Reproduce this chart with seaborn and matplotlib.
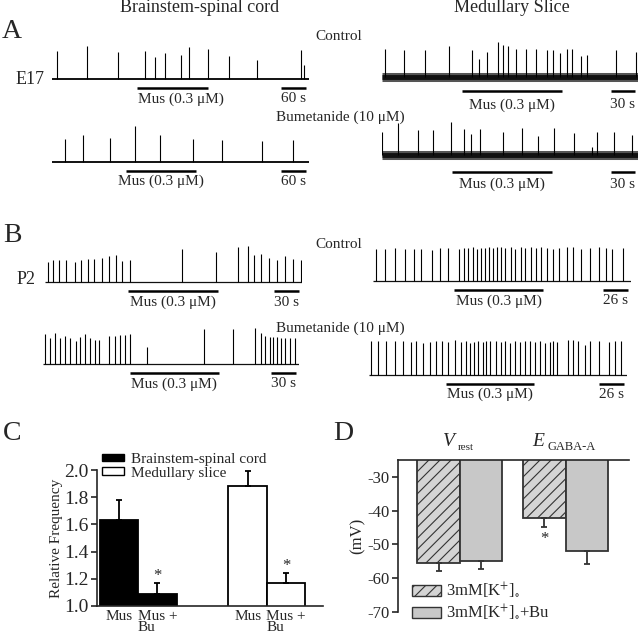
import matplotlib.patches as mpatches
import matplotlib.pyplot as plt
import numpy as np
import pandas as pd
import seaborn as sns

sns.set_style("ticks")
plt.rcParams["font.family"] = ["Liberation Serif", "DejaVu Serif"]
plt.rcParams["mathtext.fontset"] = "stix"
plt.rcParams["axes.unicode_minus"] = False
plt.rcParams["hatch.color"] = "#333333"
plt.rcParams["hatch.linewidth"] = 0.8

W, H = 640, 635

# ---- A: E17 recordings, spike times (s) and amplitudes (a.u.) ----
a_bs_ctrl_t = [13, 85, 158, 224, 247, 271, 309, 329, 374, 424, 493, 598, 604]
a_bs_ctrl_amp = [28, 33, 27, 28, 22, 26, 24, 32, 30, 23, 19, 29, 14]
a_bs_ctrl_mus = [205, 374]

a_bs_bu_t = [30, 75, 138, 200, 259, 339, 408, 505, 578]
a_bs_bu_amp = [22, 26, 23, 35, 26, 22, 21, 20, 21]
a_bs_bu_mus = [178, 346]

a_med_ctrl_t = [4, 27, 54, 84, 113, 121, 131.5, 145, 151, 158, 168, 180, 193,
                206.5, 214, 222, 231, 238, 248.5, 256, 293, 317.5]
a_med_ctrl_amp = [28, 27, 27, 31, 27, 18, 25, 35, 32, 31, 28, 28, 28,
                  27, 27, 24, 28, 28, 21, 22, 27, 25]
a_med_ctrl_mus = [100, 225]

a_med_bu_t = [0.5, 19.5, 44.5, 63.5, 86, 103, 111, 123, 151, 175.5, 195.5,
              215.5, 240, 262.5, 269, 290.5, 312]
a_med_bu_amp = [23, 32, 25, 25, 33, 26, 21, 26, 23, 27, 19, 27, 22, 8, 23, 23, 20]
a_med_bu_mus = [88, 212]

# ---- B: P2 recordings ----
b_bs_ctrl_t = [3.6, 10, 17, 25, 35.4, 43, 51, 59, 68.4, 76.6, 85, 92, 101.6,
               164.4, 205, 231, 243, 251, 259.4, 268.6, 278, 287.6, 297.6, 307]
b_bs_ctrl_amp = [20, 22, 22, 22, 20, 22, 23, 23, 24, 26, 27, 21, 22,
                 33, 30, 35, 36, 27, 28, 24, 22, 26, 23, 22]
b_bs_ctrl_mus = [100, 207]

b_bs_bu_t = [2.8, 8.8, 14, 20.8, 26, 32.8, 39.6, 44, 50, 56, 62, 66.7, 78.7,
             86, 92, 98, 104.8, 124.8, 193.6, 228, 254.8, 262, 266.8, 272,
             276, 280.8, 286, 290.8, 296, 302.8]
b_bs_bu_amp = [30, 26, 31, 26, 28, 26, 23, 27, 30, 26, 24, 24, 28,
               28, 29, 29, 30, 17, 35, 35, 36, 31, 28, 27,
               27, 27, 26, 26, 26, 26]
b_bs_bu_mus = [104, 211]

b_med_ctrl_t = [2.8, 12.9, 23.3, 33.7, 42.3, 50.3, 61.4, 70.1, 78.4, 89.9,
                94.3, 99.2, 103.7, 108.2, 112, 116.5, 120.3, 124.5, 128.6, 133.1,
                137.7, 143.2, 148.1, 153.6, 158.5, 164, 169.9, 175.1, 181.4, 187.2,
                193.4, 201.4, 208.4, 216.7, 225.4, 235, 242.7, 248.6, 260]
b_med_ctrl_amp = [32, 32, 33, 32, 32, 32, 31, 33, 33, 32,
                  33, 33, 34, 32, 33, 33, 34, 33, 34, 34,
                  33, 34, 32, 34, 33, 34, 33, 34, 33, 32,
                  33, 34, 34, 32, 33, 34, 33, 32, 33]
b_med_ctrl_mus = [84, 177]

b_med_bu_t = [2.5, 9.4, 18.1, 26.7, 35.4, 44.1, 49.3, 56.2, 63.1, 70.1,
              76.3, 82.2, 89.1, 96.1, 100.6, 104.7, 108.9, 113.4, 118.6, 122.1,
              126.3, 132.5, 137.7, 141.1, 146.3, 151.5, 156.7, 161.9, 167.1, 172.3,
              177.5, 182.7, 187.9, 191.4, 195.5, 207, 212.2, 217.4, 224.3, 230.3,
              239.2, 249.6, 255.5, 262.5]
b_med_bu_amp = [34, 34, 34, 34, 34, 33, 34, 32, 33, 34,
                34, 33, 35, 33, 34, 32, 33, 34, 33, 34,
                34, 34, 33, 34, 32, 34, 33, 34, 34, 33,
                34, 32, 33, 34, 33, 35, 35, 34, 30, 34,
                34, 33, 34, 34]
b_med_bu_mus = [80, 172]

# ---- C: relative frequency ----
c_pos = [0, 1, 3.35, 4.35]
c_labels = ["Mus", "Mus +\nBu", "Mus", "Mus +\nBu"]
c_prep = ["Brainstem-spinal cord", "Brainstem-spinal cord", "Medullary slice", "Medullary slice"]
c_mean = [1.63, 1.09, 1.88, 1.17]
c_sem = [0.15, 0.08, 0.11, 0.07]

# ---- D: membrane potentials ----
d_group = ["Vrest", "Vrest", "EGABA", "EGABA"]
d_cond = ["3mM", "3mM+Bu", "3mM", "3mM+Bu"]
d_mean = [-55.4, -54.8, -42.3, -51.9]
d_sem = [2.4, 2.6, 2.6, 3.9]

fig = plt.figure(figsize=(6.4, 6.35), dpi=100)


def fx(x):
    return x / W


def fy(y):
    return 1 - y / H


def px_axes(x0, x1, y_top, y_bot):
    return fig.add_axes([fx(x0), fy(y_bot), (x1 - x0) / W, (y_bot - y_top) / H])


def draw_trace(x0, x1, base_y, s_per_px, times, amps, mus, scale_s, scale_label,
               base_lw=1.4, noisy=False, bar_off=9, text_off=20, text_dx=0):
    ax = px_axes(x0, x1, base_y - 40, base_y + 35)
    dur = (x1 - x0) * s_per_px
    ax.set_xlim(0, dur)
    ax.set_ylim(-35, 40)
    ax.axis("off")
    if noisy:
        # noisy baseline band: grey halo round a dark core
        ax.plot([0, dur], [0, 0], color="#555555", lw=6.5, solid_capstyle="butt")
        ax.plot([0, dur], [0, 0], color="#111111", lw=3.5, solid_capstyle="butt")
    else:
        ax.plot([0, dur], [0, 0], color="#111111", lw=base_lw, solid_capstyle="butt")
    ax.vlines(times, 0, amps, color="black", lw=0.8)
    ax.plot(mus, [-bar_off, -bar_off], color="black", lw=1.8,
            solid_capstyle="butt", clip_on=False)
    ax.text(np.mean(mus) + text_dx * s_per_px, -text_off, "Mus (0.3 μM)",
            ha="center", va="center", fontsize=11)
    sb = [dur - 3 * s_per_px - scale_s, dur - 3 * s_per_px]
    ax.plot(sb, [-bar_off, -bar_off], color="black", lw=1.8,
            solid_capstyle="butt", clip_on=False)
    ax.text(np.mean(sb), -text_off, scale_label, ha="center", va="center", fontsize=11)


# panel A
draw_trace(52, 309, 79, 2.4, a_bs_ctrl_t, a_bs_ctrl_amp, a_bs_ctrl_mus, 60, "60 s", text_dx=8)
draw_trace(52, 309, 161.5, 2.4, a_bs_bu_t, a_bs_bu_amp, a_bs_bu_mus, 60, "60 s")
draw_trace(382, 638, 77, 1.25, a_med_ctrl_t, a_med_ctrl_amp, a_med_ctrl_mus, 30, "30 s",
           noisy=True, bar_off=14, text_off=28)
draw_trace(382, 638, 155, 1.25, a_med_bu_t, a_med_bu_amp, a_med_bu_mus, 30, "30 s",
           noisy=True, bar_off=17, text_off=29)

# panel B
draw_trace(45, 302, 282, 1.2, b_bs_ctrl_t, b_bs_ctrl_amp, b_bs_ctrl_mus, 30, "30 s", base_lw=0.9)
draw_trace(43, 299, 364, 1.2, b_bs_bu_t, b_bs_bu_amp, b_bs_bu_mus, 30, "30 s", base_lw=0.9)
draw_trace(373, 631, 281, 1.04, b_med_ctrl_t, b_med_ctrl_amp, b_med_ctrl_mus, 26, "26 s", base_lw=0.9)
draw_trace(369, 627, 374.5, 1.04, b_med_bu_t, b_med_bu_amp, b_med_bu_mus, 26, "26 s", base_lw=0.9)

# figure text
fig.text(fx(200), fy(8), "Brainstem-spinal cord", ha="center", va="center", fontsize=13)
fig.text(fx(512), fy(8), "Medullary Slice", ha="center", va="center", fontsize=13)
for lab, x, y in [("A", 12, 32), ("B", 12, 235), ("C", 12, 433), ("D", 343, 433)]:
    fig.text(fx(x), fy(y), lab, ha="center", va="center", fontsize=20)
fig.text(fx(30), fy(80), "E17", ha="center", va="center", fontsize=13)
fig.text(fx(26), fy(279), "P2", ha="center", va="center", fontsize=13)
for y in (37, 245):
    fig.text(fx(339), fy(y), "Control", ha="center", va="center", fontsize=11)
for y in (117, 328):
    fig.text(fx(340), fy(y), "Bumetanide (10 μM)", ha="center", va="center", fontsize=11)

# panel C
axc = px_axes(97, 323, 470, 606)
df_c = pd.DataFrame({"pos": c_pos, "value": c_mean, "prep": c_prep})
sns.barplot(data=df_c, x="pos", y="value", hue="prep", native_scale=True, dodge=False,
            palette={"Brainstem-spinal cord": "black", "Medullary slice": "white"},
            width=1, edgecolor="black", linewidth=1.3, errorbar=None, legend=False, ax=axc)
axc.errorbar(c_pos, c_mean, yerr=[np.zeros(4), c_sem], fmt="none", ecolor="black",
             elinewidth=1.3, capsize=2.5, capthick=1.3)
axc.set_xlim(-0.57, 5.31)
axc.set_ylim(1.0, 2.0)
axc.set_yticks(np.arange(1.0, 2.01, 0.2))
axc.set_yticklabels([f"{v:.1f}" for v in np.arange(1.0, 2.01, 0.2)], fontsize=14)
axc.set_xticks(c_pos)
axc.set_xticklabels(c_labels, fontsize=11, linespacing=0.8)
for t in axc.get_xticklabels():
    t.set_multialignment("left")
axc.tick_params(axis="x", length=0, pad=3)
axc.tick_params(axis="y", length=4, width=1.2, pad=2)
axc.set_xlabel("")
axc.set_ylabel("Relative Frequency", fontsize=11, labelpad=1)
sns.despine(ax=axc)
for s in axc.spines.values():
    s.set_linewidth(1.2)
for x, m, e, lab in zip(c_pos, c_mean, c_sem, c_labels):
    if "Bu" in lab:
        axc.text(x, m + e - 0.005, "*", ha="center", va="bottom", fontsize=12)
c_handles = [mpatches.Patch(facecolor="black", edgecolor="black"),
             mpatches.Patch(facecolor="white", edgecolor="black")]
fig.legend(c_handles, ["Brainstem-spinal cord", "Medullary slice"], loc="upper left",
           bbox_to_anchor=(fx(102), fy(453)), frameon=False, fontsize=11,
           handlelength=1.45, handleheight=0.4, handletextpad=0.45,
           labelspacing=0.05, borderpad=0, borderaxespad=0)

# panel D
axd = px_axes(398, 629, 460, 612)
df_d = pd.DataFrame({"group": d_group, "value": d_mean, "cond": d_cond})
sns.barplot(data=df_d, x="group", y="value", hue="cond",
            palette={"3mM": "#d4d4d4", "3mM+Bu": "#c8c8c8"},
            edgecolor="#333333", linewidth=1.3, errorbar=None, legend=False, ax=axd)
for p in axd.patches[:2]:
    p.set_hatch("///")
d_x = [-0.2, 0.2, 0.8, 1.2]
axd.errorbar(d_x, d_mean, yerr=[d_sem, np.zeros(4)], fmt="none", ecolor="#333333",
             elinewidth=1.3, capsize=2.5, capthick=1.3)
axd.set_xlim(-0.584, 1.6)
axd.set_ylim(-70, -25)
axd.set_yticks([-70, -60, -50, -40, -30])
axd.set_yticklabels(["-70", "-60", "-50", "-40", "-30"], fontsize=12)
axd.set_xticks([])
axd.set_xlabel("")
axd.set_ylabel("(mV)", fontsize=12, labelpad=1)
axd.tick_params(axis="y", length=4, width=1.2, pad=2)
sns.despine(ax=axd, top=False, right=True, bottom=True)
for s in axd.spines.values():
    s.set_linewidth(1.2)
axd.text(0.8, d_mean[2] - d_sem[2] - 1.2, "*", ha="center", va="top", fontsize=12)
fig.text(fx(449), fy(441), "V", ha="center", va="center", fontsize=14, style="italic")
fig.text(fx(466), fy(448), "rest", ha="center", va="center", fontsize=8)
fig.text(fx(538), fy(441), "E", ha="center", va="center", fontsize=14, style="italic")
fig.text(fx(572), fy(447), "GABA-A", ha="center", va="center", fontsize=9)
d_handles = [mpatches.Patch(facecolor="#d4d4d4", edgecolor="#333333", hatch="///"),
             mpatches.Patch(facecolor="#c8c8c8", edgecolor="#333333")]
fig.legend(d_handles, [r"3mM[K$^{+}$]$_{\circ}$", r"3mM[K$^{+}$]$_{\circ}$+Bu"],
           loc="upper left", bbox_to_anchor=(fx(412), fy(581)), frameon=False,
           fontsize=12, handlelength=1.75, handleheight=0.6, handletextpad=0.3,
           labelspacing=0.1, borderpad=0, borderaxespad=0)

fig.savefig("out.png", dpi=100)
